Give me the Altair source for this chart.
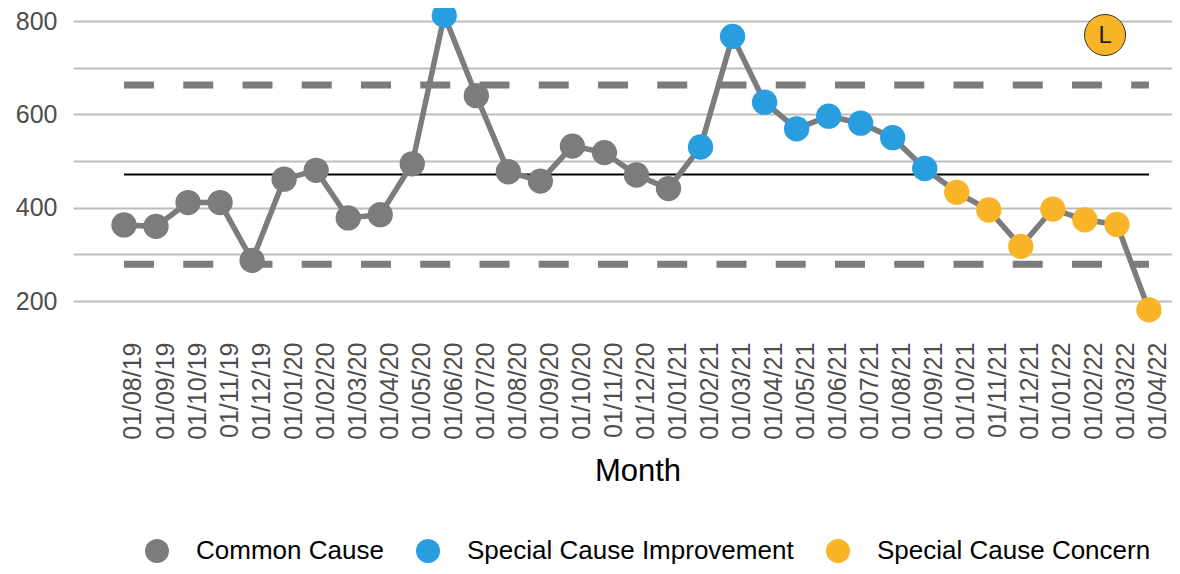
import altair as alt
import pandas as pd

months = ["01/08/19", "01/09/19", "01/10/19", "01/11/19", "01/12/19",
          "01/01/20", "01/02/20", "01/03/20", "01/04/20", "01/05/20", "01/06/20",
          "01/07/20", "01/08/20", "01/09/20", "01/10/20", "01/11/20", "01/12/20",
          "01/01/21", "01/02/21", "01/03/21", "01/04/21", "01/05/21", "01/06/21",
          "01/07/21", "01/08/21", "01/09/21", "01/10/21", "01/11/21", "01/12/21",
          "01/01/22", "01/02/22", "01/03/22", "01/04/22"]
values = [363, 360, 411, 411, 287, 461, 480, 378, 385, 494, 812, 640, 477, 457,
          532, 518, 470, 441, 530, 767, 626, 569, 596, 581, 550, 484, 433, 395,
          317, 397, 374, 364, 181]
point_type = (["Common Cause"] * 10 + ["Special Cause Improvement"]
              + ["Common Cause"] * 7 + ["Special Cause Improvement"] * 8
              + ["Special Cause Concern"] * 7)
type_order = ["Common Cause", "Special Cause Improvement", "Special Cause Concern"]
type_colors = ["#7B7D7D", "#289DE0", "#FAB428"]

mean_value = 471
ucl_value = 663
lcl_value = 279

icon_pos = {"x": [30.63], "y": [770], "label": ["L"]}

df = pd.DataFrame({"i": list(range(len(months))), "v": values, "type": point_type})
lim_df = pd.DataFrame({"x": [0, 0], "x2": [len(months) - 1] * 2, "y": [ucl_value, lcl_value]})
mean_df = pd.DataFrame({"x": [0], "x2": [len(months) - 1], "y": [mean_value]})
icon_df = pd.DataFrame(icon_pos)

label_arr = "[" + ",".join("'" + m + "'" for m in months) + "]"

x_scale = alt.Scale(domain=[-1.592, 32.72], nice=False, zero=False)
y_scale = alt.Scale(domain=[148.6, 827.9], nice=False, zero=False)

x_axis = alt.Axis(values=list(range(len(months))), labelExpr=label_arr + "[datum.value]",
                  labelAngle=-90, labelAlign="right", labelBaseline="top",
                  labelFontSize=25, labelColor="#4D4D4D", labelPadding=17,
                  labelOffset=-3,
                  ticks=False, tickSize=0, domain=False, grid=False,
                  title="Month", titleFontSize=31, titleFontWeight="normal",
                  titleColor="#000000", titleX=564.5, titleY=155,
                  titleAlign="center", titleBaseline="alphabetic",
                  labelOverlap=False, labelFlush=False)
y_axis = alt.Axis(values=[200, 300, 400, 500, 600, 700, 800],
                  labelExpr="datum.value % 200 == 0 ? datum.label : ''",
                  labelFontSize=25, labelColor="#4D4D4D", labelPadding=16,
                  ticks=False, tickSize=0, domain=False, grid=True,
                  gridColor="#BDBDBD", gridWidth=1.8, title=None)

X = alt.X("i:Q", scale=x_scale, axis=x_axis)
Y = alt.Y("v:Q", scale=y_scale, axis=y_axis)

limits = alt.Chart(lim_df).mark_rule(color="#7B7D7D", strokeWidth=7,
                                     strokeDash=[30, 29.25], strokeCap="butt").encode(
    x=alt.X("x:Q", scale=x_scale, axis=x_axis), x2="x2:Q",
    y=alt.Y("y:Q", scale=y_scale, axis=y_axis))

mean_rule = alt.Chart(mean_df).mark_rule(color="#000000", strokeWidth=2).encode(
    x=alt.X("x:Q", scale=x_scale, axis=x_axis), x2="x2:Q",
    y=alt.Y("y:Q", scale=y_scale, axis=y_axis))

line = alt.Chart(df).mark_line(color="#7B7D7D", strokeWidth=5.5).encode(x=X, y=Y)

points = alt.Chart(df).mark_point(filled=True, size=640, opacity=1).encode(
    x=X, y=Y,
    color=alt.Color("type:N", scale=alt.Scale(domain=type_order, range=type_colors),
                    legend=alt.Legend(title=None, orient="none", direction="horizontal",
                                      legendX=71, legendY=530, symbolType="circle",
                                      symbolSize=576, symbolStrokeWidth=0,
                                      symbolOpacity=1, labelFontSize=26,
                                      labelColor="#000000", labelOffset=26,
                                      columnPadding=31, labelLimit=500, padding=0)))

icon = alt.Chart(icon_df).mark_point(filled=True, size=1681, color="#FAB428",
                                     stroke="#333333", strokeWidth=1, opacity=1).encode(
    x=alt.X("x:Q", scale=x_scale, axis=x_axis), y=alt.Y("y:Q", scale=y_scale, axis=y_axis))
icon_text = alt.Chart(icon_df).mark_text(fontSize=24, color="#222222", align="center",
                                         baseline="middle", dy=1).encode(
    x=alt.X("x:Q", scale=x_scale, axis=x_axis), y=alt.Y("y:Q", scale=y_scale, axis=y_axis),
    text="label:N")

chart = alt.layer(limits, mean_rule, line, points, icon, icon_text).properties(
    width=1099, height=317,
    autosize=alt.AutoSizeParams(type="none"),
    padding={"left": 65, "top": 0, "right": 0, "bottom": 241},
).configure(font="Liberation Sans").configure_view(stroke=None)

chart.save("out.html", embed_options={"renderer": "svg", "actions": False})
